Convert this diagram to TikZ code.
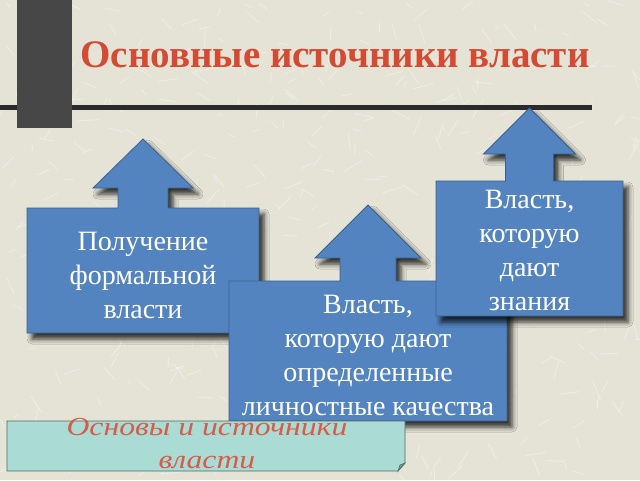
\documentclass[tikz,border=0pt]{standalone}
\usepackage{fontspec}
\setmainfont{Liberation Serif}
\usetikzlibrary{shadows.blur}

\definecolor{paper}{HTML}{E4E3D6}
\definecolor{bargrey}{HTML}{474747}
\definecolor{rulegrey}{HTML}{2B2B2B}
\definecolor{boxblue}{HTML}{5384BF}
\definecolor{boxedge}{HTML}{3A6091}
\definecolor{titlered}{HTML}{D44A33}
\definecolor{bannerfill}{HTML}{AADBD4}
\definecolor{banneredge}{HTML}{4E6B69}

\tikzset{
	callout/.style = {fill=boxblue, draw=boxedge, line width=0.8pt,
		blur shadow={shadow xshift=5pt, shadow yshift=-6pt, shadow blur radius=5pt, shadow opacity=80}},
	calltext/.style = {text=white, align=center, inner sep=0pt,
		font=\fontsize{28}{34}\selectfont},
}

% box with an up arrow on top: left, top, right, bottom, stem half, neck, head half, tip
\newcommand{\upcallout}[8]{%
	\pgfmathsetmacro{\cx}{(#1+#3)/2}
	\filldraw[callout] (#1,#4) -- (#1,#2) -- (\cx-#5,#2) -- (\cx-#5,#6) -- (\cx-#7,#6)
		-- (\cx,#8) -- (\cx+#7,#6) -- (\cx+#5,#6) -- (\cx+#5,#2) -- (#3,#2) -- (#3,#4) -- cycle;
}

\begin{document}
\begin{tikzpicture}[x=1pt, y=-1pt]
	\useasboundingbox (0,0) rectangle (640,480);
	\fill[paper] (0,0) rectangle (640,480);

	% paper scratches
	\pgfmathsetseed{11}
	\foreach \i in {1,...,420} {
		\pgfmathsetmacro{\px}{rnd*640}
		\pgfmathsetmacro{\py}{rnd*480}
		\pgfmathsetmacro{\pa}{rnd*180}
		\pgfmathsetmacro{\pl}{5+rnd*16}
		\draw[white, opacity=0.35, line width=0.9pt, line cap=round]
			(\px,\py) -- ++(\pa:\pl);
	}

	% frame lines
	\fill[rulegrey] (0,104.5) rectangle (592,109.5);
	\fill[bargrey] (17,0) rectangle (72,128);

	\node[text=titlered, anchor=base, font=\fontsize{39}{44}\selectfont\bfseries] (title)
		at (335,67) {Основные источники власти};

	% callouts
	\upcallout{27}{208}{259}{333}{25}{188}{50}{139}
	\node[calltext] (formal) at (143,275) {Получение\\формальной\\власти};

	\upcallout{229}{281}{507}{421}{28}{258}{53}{205}
	\node[calltext] (personal) at (368,355) {Власть,\\которую дают\\определенные\\личностные качества};

	\upcallout{436}{181}{623}{316}{24}{154}{46}{108}
	\node[calltext] (knowledge) at (529.5,250) {Власть,\\которую\\дают\\знания};

	% banner
	\filldraw[fill=bannerfill, draw=banneredge, line width=0.8pt]
		(7,421) -- (405,421) -- (405,463) -- (398,471) -- (7,471) -- cycle;
	\filldraw[fill=bannerfill!70!black, draw=banneredge, line width=0.6pt]
		(398,471) -- (400,465) -- (405,463) -- cycle;
	\node[text=titlered!90!white, align=center, inner sep=0pt, xscale=1.22,
		font=\fontsize{26}{33}\selectfont\itshape] (basis)
		at (207,444) {Основы и источники\\власти};
\end{tikzpicture}
\end{document}
